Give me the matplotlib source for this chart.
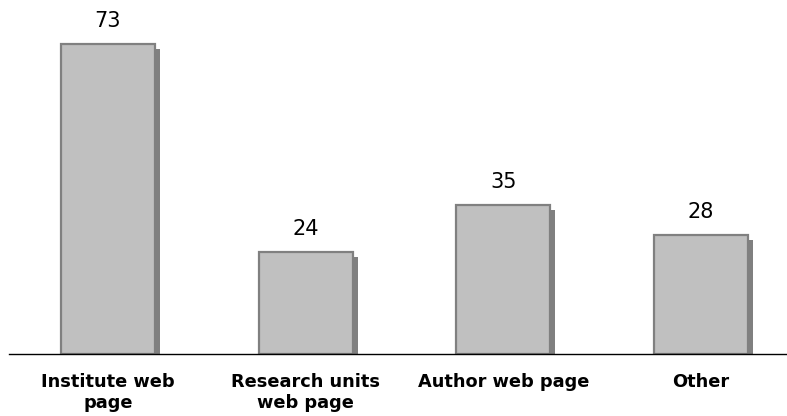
import matplotlib
matplotlib.use("Agg")
import matplotlib.pyplot as plt
import matplotlib.transforms as mtransforms
import numpy as np

categories = ["Institute web\npage", "Research units\nweb page", "Author web page", "Other"]
values = [73, 24, 35, 28]

fig = plt.figure(figsize=(7.87, 4.16), dpi=100)
ax = fig.add_axes([9 / 787, 62 / 416, 790.8 / 787, 339.7 / 416])

x = np.arange(len(categories))
width = 0.475

# drop shadow: same bars shifted a few pixels right/down
shadow_tf = mtransforms.offset_copy(ax.transData, fig=fig, x=5, y=-5, units="dots")
ax.bar(x, values, width=width, color="#808080", edgecolor="none",
       transform=shadow_tf, zorder=1)
ax.bar(x, values, width=width, color="#C0C0C0", edgecolor="#808080",
       linewidth=1.6, zorder=2)

for xi, v in zip(x, values):
    ax.annotate(f"{v}", (xi, v), xytext=(0, 9.5), textcoords="offset points",
                ha="center", va="bottom", fontsize=15, color="black",
                family="DejaVu Sans")

ax.set_xlim(-0.5, len(categories) - 0.5)
ax.set_ylim(0, 80)
ax.set_xticks(x)
ax.set_xticklabels(categories, fontsize=12.8, fontweight="bold",
                   family="DejaVu Sans", linespacing=1.2)
ax.tick_params(axis="x", length=0, pad=14)
ax.set_yticks([])
for side in ("top", "right", "left"):
    ax.spines[side].set_visible(False)
ax.spines["bottom"].set_color("#000000")
ax.spines["bottom"].set_linewidth(1.0)
ax.spines["bottom"].set_zorder(3)

fig.savefig("out.png", dpi=100)
